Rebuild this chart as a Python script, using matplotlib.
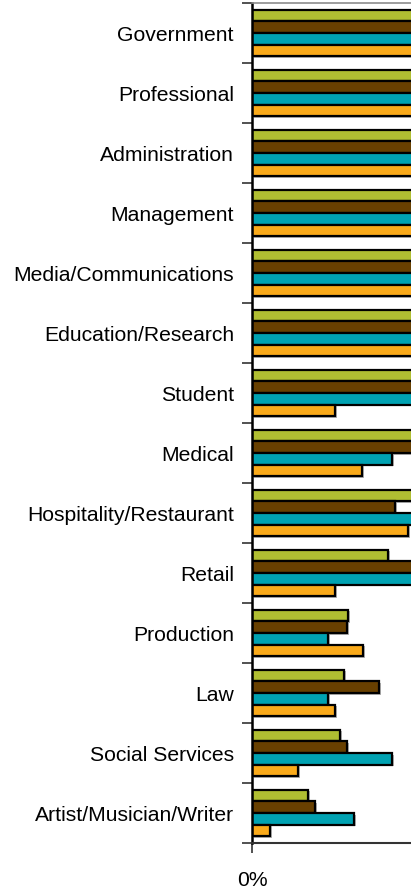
"""
Horizontal grouped bar chart of occupation shares for four groups.
"""
from matplotlib import patheffects, pyplot, rcParams
from matplotlib.ticker import FixedLocator, NullFormatter, PercentFormatter
import numpy as np

categories = [
    "Government",
    "Professional",
    "Administration",
    "Management",
    "Media/Communications",
    "Education/Research",
    "Student",
    "Medical",
    "Hospitality/Restaurant",
    "Retail",
    "Production",
    "Law",
    "Social Services",
    "Artist/Musician/Writer",
]

# Shares in percent, one list per group (top bar to bottom bar in each row)
group_green = [31.0, 27.5, 29.0, 25.5, 24.0, 22.5, 21.0, 19.5, 18.0, 13.6,
               9.6, 9.2, 8.8, 5.6]
group_brown = [28.5, 30.0, 26.0, 24.5, 21.5, 23.0, 18.5, 17.0, 14.3, 16.8,
               9.5, 12.7, 9.5, 6.3]
group_teal = [26.0, 24.0, 27.5, 22.0, 23.5, 19.0, 17.5, 14.0, 17.2, 18.5,
              7.6, 7.6, 14.0, 10.2]
group_orange = [24.5, 25.5, 22.0, 23.0, 20.0, 18.0, 8.3, 11.0, 15.6, 8.3,
                11.1, 8.3, 4.6, 1.8]

series = [group_green, group_brown, group_teal, group_orange]
colors = ["#B0BE32", "#684000", "#00A2B2", "#FAAA1A"]

rcParams["font.family"] = ["Liberation Sans", "DejaVu Sans"]

WIDTH_PX, HEIGHT_PX, DPI = 411, 889, 100
BAR_HEIGHT = 0.195


def plot_grouped_bars(output_file: str = "out.png") -> None:
    """Draw the grouped horizontal bars and save them to a png file."""
    figure = pyplot.figure(figsize=(WIDTH_PX / DPI, HEIGHT_PX / DPI), dpi=DPI)

    # The plot area runs on past the right edge of the figure
    left, right = 252, 652
    top, bottom = 3, 843
    axes = figure.add_axes([left / WIDTH_PX, 1 - bottom / HEIGHT_PX,
                            (right - left) / WIDTH_PX,
                            (bottom - top) / HEIGHT_PX])

    positions = np.arange(len(categories))
    shadow = [patheffects.SimplePatchShadow(offset=(1.2, -1.2),
                                            shadow_rgbFace="#808080",
                                            alpha=0.6),
              patheffects.Normal()]

    for index, (values, color) in enumerate(zip(series, colors)):
        offset = (index - 1.5) * BAR_HEIGHT
        bars = axes.barh(positions + offset, values, height=BAR_HEIGHT,
                         color=color, edgecolor="black", linewidth=1.6)
        for bar in bars:
            bar.set_path_effects(shadow)

    axes.set_xlim(0, 40)
    axes.set_ylim(len(categories) - 0.5, -0.5)

    # Ticks sit between the categories, the names sit in the middle
    axes.yaxis.set_major_locator(
        FixedLocator(np.arange(len(categories) + 1) - 0.5))
    axes.yaxis.set_major_formatter(NullFormatter())
    axes.yaxis.set_minor_locator(FixedLocator(positions))
    axes.set_yticklabels(categories, minor=True, fontsize=15.2)
    axes.tick_params(axis="y", which="major", length=7, width=1.2,
                     color="#333333")
    axes.tick_params(axis="y", which="minor", length=0, pad=13)

    # Only the origin tick falls inside the figure
    axes.xaxis.set_major_locator(FixedLocator([0]))
    axes.xaxis.set_major_formatter(PercentFormatter(decimals=0))
    axes.tick_params(axis="x", length=7, width=1.2, color="#333333",
                     labelsize=15.2, pad=13)

    axes.spines["left"].set_linewidth(1.8)
    axes.spines["left"].set_color("black")
    axes.spines["bottom"].set_linewidth(1.5)
    axes.spines["bottom"].set_color("#333333")
    axes.spines["top"].set_linewidth(1.2)
    axes.spines["top"].set_color("#8c8c8c")
    axes.spines["right"].set_visible(False)

    figure.savefig(output_file, dpi=DPI)
    pyplot.close(figure)


if __name__ == "__main__":
    plot_grouped_bars()
